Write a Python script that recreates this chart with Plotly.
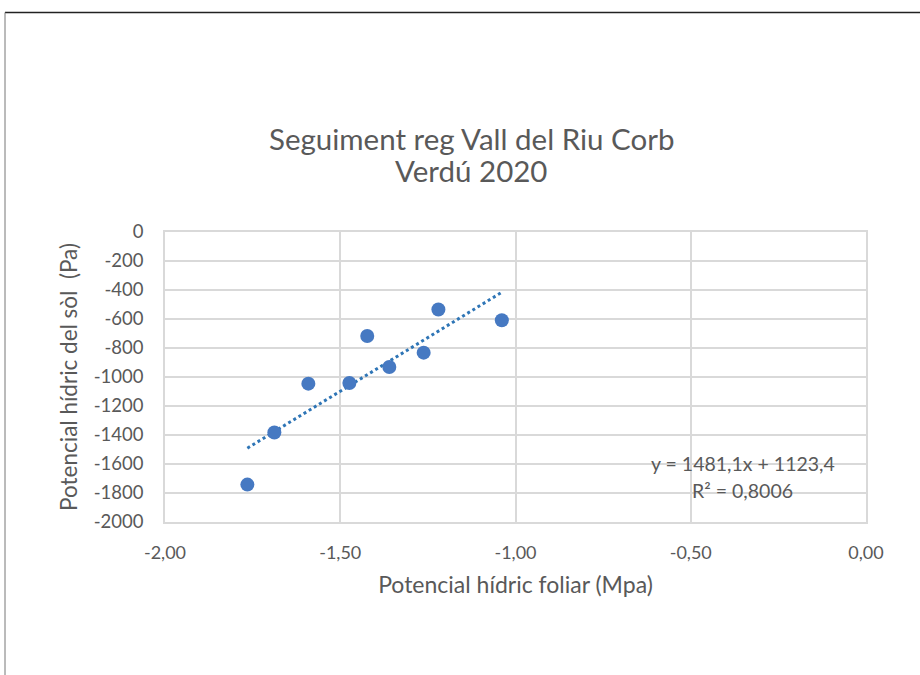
import plotly.graph_objects as go

# Data
foliar = [-1.765, -1.688, -1.591, -1.474, -1.423, -1.360, -1.262, -1.220, -1.039]
sol = [-1742, -1383, -1046, -1041, -717, -931, -832, -535, -609]

# Linear trendline coefficients shown on the chart
slope = 1481.1
intercept = 1123.4
r2_text = "R² = 0,8006"
eq_text = "y = 1481,1x + 1123,4"

x_tickvals = [-2.0, -1.5, -1.0, -0.5, 0.0]
x_ticktext = ["-2,00", "-1,50", "-1,00", "-0,50", "0,00"]
y_tickvals = [0, -200, -400, -600, -800, -1000, -1200, -1400, -1600, -1800, -2000]
y_ticktext = ["0", "-200", "-400", "-600", "-800", "-1000", "-1200", "-1400", "-1600", "-1800", "-2000"]

title_lines = ["Seguiment reg Vall del Riu Corb", "Verdú 2020"]
x_title = "Potencial hídric foliar (Mpa)"
y_title = "Potencial hídric del sòl  (Pa)"

FONT = "Lato"
TXT = "#595959"
GRID = "#d9d9d9"

trend_x = [min(foliar), max(foliar)]
trend_y = [slope * v + intercept for v in trend_x]

fig = go.Figure()
fig.add_trace(go.Scatter(
    x=trend_x, y=trend_y, mode="lines",
    line=dict(color="#2E75B6", width=3, dash="dot"),
    hoverinfo="skip", showlegend=False,
))
fig.add_trace(go.Scatter(
    x=foliar, y=sol, mode="markers",
    marker=dict(color="#4679C2", size=14, line=dict(width=0)),
    showlegend=False,
))

W, H = 920, 675
L, R, T, B = 165, 54, 232, 153
pw, ph = W - L - R, H - T - B

def px(xp):
    return (xp - L) / pw

def py(yp):
    return (H - B - yp) / ph

fig.update_layout(
    width=W, height=H,
    margin=dict(l=L, r=R, t=T, b=B),
    paper_bgcolor="white", plot_bgcolor="white",
    font=dict(family=FONT, color=TXT, size=18),
    showlegend=False,
    xaxis=dict(
        range=[-2.0, 0.0], tickvals=x_tickvals, ticktext=x_ticktext,
        showgrid=True, gridcolor=GRID, gridwidth=1.5,
        zeroline=False, showline=True, linecolor=GRID, linewidth=1.5, mirror=True,
        ticks="", ticklabelstandoff=14,
        tickfont=dict(family=FONT, size=18, color=TXT),
        title=dict(text=x_title, standoff=15, font=dict(family=FONT, size=23, color=TXT)),
    ),
    yaxis=dict(
        range=[-2000, 0], tickvals=y_tickvals, ticktext=y_ticktext,
        showgrid=True, gridcolor=GRID, gridwidth=1.5,
        zeroline=False, showline=True, linecolor=GRID, linewidth=1.5, mirror=True,
        ticks="", ticklabelstandoff=16,
        tickfont=dict(family=FONT, size=18.5, color=TXT),
        title=dict(text=y_title, standoff=10, font=dict(family=FONT, size=22.5, color=TXT)),
    ),
    annotations=[
        dict(text=title_lines[0], x=px(471), y=py(139), xref="paper", yref="paper",
             showarrow=False, xanchor="center", yanchor="middle",
             font=dict(family=FONT, size=29.5, color=TXT)),
        dict(text=title_lines[1], x=px(471), y=py(171), xref="paper", yref="paper",
             showarrow=False, xanchor="center", yanchor="middle",
             font=dict(family=FONT, size=29.5, color=TXT)),
        dict(text=eq_text, x=-0.351, y=-1595, xref="x", yref="y",
             showarrow=False, xanchor="center", yanchor="middle",
             font=dict(family=FONT, size=19.5, color=TXT)),
        dict(text=r2_text, x=-0.351, y=-1781, xref="x", yref="y",
             showarrow=False, xanchor="center", yanchor="middle",
             font=dict(family=FONT, size=19.5, color=TXT)),
    ],
    shapes=[
        dict(type="line", xref="paper", yref="paper",
             x0=px(5), x1=px(921), y0=py(12.5), y1=py(12.5),
             line=dict(color="#222222", width=1.5)),
        dict(type="line", xref="paper", yref="paper",
             x0=px(5), x1=px(5), y0=py(12.5), y1=py(680),
             line=dict(color="#777777", width=1)),
    ],
)

fig.write_html(
    "out.html",
    config={"displayModeBar": False},
    post_script="document.body.style.margin='0';document.body.style.overflow='hidden';",
)
